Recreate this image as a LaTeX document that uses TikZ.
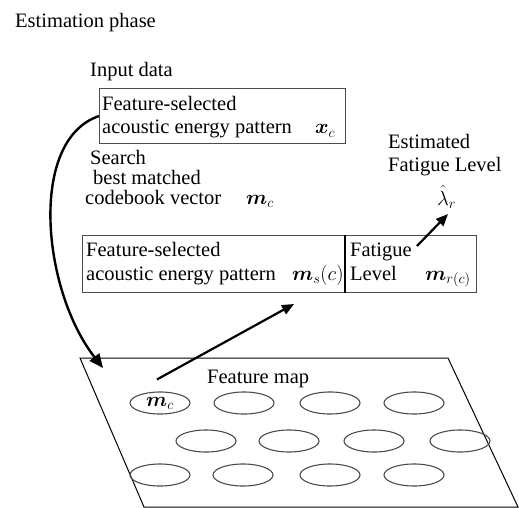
\RequirePackage{fix-cm}
\documentclass[tikz,border=0pt]{standalone}
\usepackage{amsmath}
\usepackage{fontspec}
\setmainfont{Liberation Serif}
\usetikzlibrary{arrows.meta,shapes.geometric}
\begin{document}
\begin{tikzpicture}[x=1pt,y=-1pt,
  txt/.style={anchor=base west,inner sep=0pt,font=\fontsize{20.5}{24}\selectfont},
  box/.style={draw=black!70,line width=1.1pt,anchor=north west,inner sep=0pt},
  cell/.style={ellipse,draw=black!70,line width=1.1pt,minimum width=60pt,minimum height=22pt,inner sep=0pt,font=\fontsize{20.5}{24}\selectfont},
  bigarrow/.style={line width=2.4pt,-{Triangle[length=14pt,width=12pt]}},
  midarrow/.style={line width=2.2pt,-{Triangle[length=12pt,width=10pt]}}]
\useasboundingbox (0,0) rectangle (519,508);
\fill[white] (0,0) rectangle (519,508);

% titles
\node[txt] (title) at (15,28) {Estimation phase};
\node[txt] (input) at (90,77) {Input data};

% input box
\node[box,minimum width=246pt,minimum height=55pt] (inbox) at (99,88) {};
\node[txt] (in1) at (102,111) {Feature-selected};
\node[txt] (in2) at (102,134) {acoustic energy pattern};
\node[txt] (xc) at (315,134) {$\boldsymbol{x}_c$};

% search text
\node[txt] (s1) at (90,164) {Search};
\node[txt] (s2) at (93,184) {best matched};
\node[txt] (s3) at (85,204) {codebook vector};
\node[txt] (mc) at (246,204) {$\boldsymbol{m}_c$};

% codebook box
\node[box,minimum width=262pt,minimum height=57pt] (cbl) at (82,235) {};
\node[box,minimum width=132pt,minimum height=57pt] (cbr) at (344,235) {};
\draw[line width=2pt] (cbl.north east) -- (cbl.south east);
\node[txt] (cb1) at (86,256) {Feature-selected};
\node[txt] (cb2) at (86,280) {acoustic energy pattern};
\node[txt] (ms) at (292,280) {$\boldsymbol{m}_s(c)$};
\node[txt] (fl1) at (350,256) {Fatigue};
\node[txt] (fl2) at (350,280) {Level};
\node[txt] (mr) at (425,280) {$\boldsymbol{m}_{r(c)}$};

% estimated level
\node[txt] (e1) at (388,148) {Estimated};
\node[txt] (e2) at (388,171) {Fatigue Level};
\node[txt] (lam) at (437,205) {$\hat{\lambda}_r$};

% feature map
\draw[line width=1pt] (80,358) -- (448,358) -- (518,507) -- (144,507) -- cycle;
\node[txt] (fm) at (207,383) {Feature map};
\node[cell] (c11) at (160,403) {$\boldsymbol{m}_c$};
\node[cell] (c12) at (244,403) {};
\node[cell] (c13) at (330,403) {};
\node[cell] (c14) at (414,403) {};
\node[cell] (c21) at (206,441) {};
\node[cell] (c22) at (289,441) {};
\node[cell] (c23) at (374,441) {};
\node[cell] (c24) at (460,441) {};
\node[cell] (c31) at (160,475) {};
\node[cell] (c32) at (243,475) {};
\node[cell] (c33) at (330,475) {};
\node[cell] (c34) at (414,475) {};

% arrows
\coordinate (mapin) at (103,368);
\coordinate (cbin) at (294,304);
\coordinate (flout) at (417,246);
\coordinate (lamin) at (448,214);
\draw[bigarrow] (inbox.west) .. controls (28,140) and (42,290) .. (mapin);
\draw[midarrow] ([shift={(-3,-12)}]c11.north) -- (cbin);
\draw[midarrow] (flout) -- (lamin);
\end{tikzpicture}
\end{document}
